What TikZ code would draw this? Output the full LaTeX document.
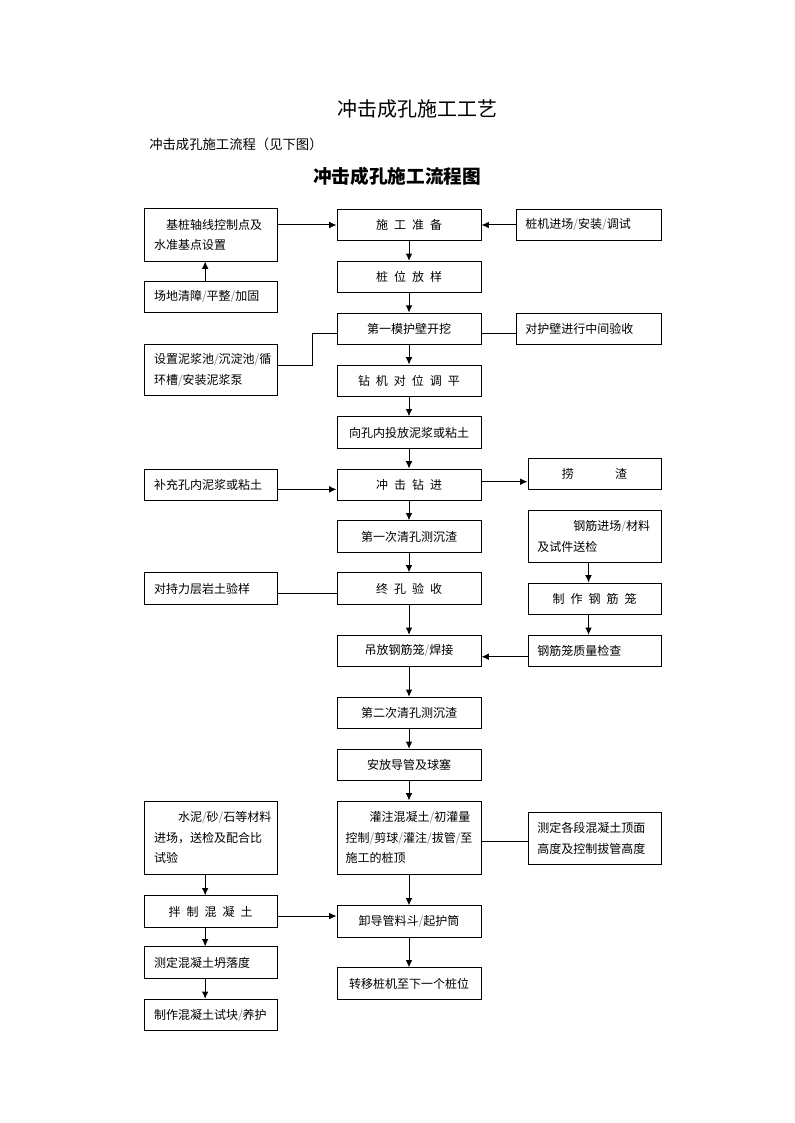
\documentclass[tikz,border=0pt]{standalone}
\usepackage{fontspec}
\setmainfont{Noto Sans CJK SC}
\usetikzlibrary{arrows.meta}
\newcommand{\gsl}{\textcolor{black!45}{/}}
\newcommand{\indbox}[1]{\hbox to #1{}}
\tikzset{
  box/.style={draw,line width=0.75pt,inner ysep=0pt,minimum height=23.5pt,
    font=\fontsize{9}{15.6}\selectfont,execute at begin node={\spaceskip=4.5pt\relax}},
  lbox/.style={box,text width=84.75pt,inner xsep=7.5pt,align=left},
  cbox/.style={box,text width=96pt,inner xsep=6pt,align=center},
  cboxl/.style={box,text width=95pt,inner xsep=6.5pt,align=left},
  rbox/.style={box,text width=94.75pt,inner xsep=7pt,align=left},
  rboxn/.style={box,text width=85.75pt,inner xsep=7pt,align=left},
  arr/.style={line width=0.75pt,-{Latex[length=5.5pt,width=5pt]}},
  link/.style={line width=0.75pt}
}
\begin{document}
\begin{tikzpicture}[x=0.75pt,y=-0.75pt]
\useasboundingbox (0,0) rectangle (794,1123);

\node[font=\fontsize{15}{18}\selectfont] (title) at (417.5,108.5) {冲击成孔施工工艺};
\node[font=\fontsize{10}{12}\selectfont,anchor=west,inner sep=0pt] (subtitle) at (149,144.5) {冲击成孔施工流程（见下图）};
\node[font=\fontsize{14}{17}\selectfont\bfseries] (chart) at (397,176) {冲击成孔施工流程图};

\node[cbox] (prep) at (409,225) {施 工 准 备};
\node[cbox] (pos) at (409,277) {桩 位 放 样};
\node[cbox] (wall) at (409,328.8) {第一模护壁开挖};
\node[cbox] (rig) at (409,380.7) {钻 机 对 位 调 平};
\node[cbox] (slurry) at (409,432.5) {向孔内投放泥浆或粘土};
\node[cbox] (drill) at (409,484.7) {冲 击 钻 进};
\node[cbox] (clean1) at (409,536.5) {第一次清孔测沉渣};
\node[cbox] (final) at (409,588.5) {终 孔 验 收};
\node[cbox] (hang) at (409,651) {吊放钢筋笼\gsl 焊接};
\node[cbox] (clean2) at (409,713) {第二次清孔测沉渣};
\node[cbox] (pipe) at (409,765) {安放导管及球塞};
\node[cboxl,minimum height=54.75pt] (pour) at (409,837.5) {\indbox{2em}灌注混凝土\gsl 初灌量\par 控制\gsl 剪球\gsl 灌注\gsl 拔管\gsl 至\par 施工的桩顶};
\node[cbox] (remove) at (409,921.5) {卸导管料斗\gsl 起护筒};
\node[cbox] (move) at (409,983.5) {转移桩机至下一个桩位};

\node[lbox,minimum height=39pt] (axis) at (210.5,235) {\indbox{1em}基桩轴线控制点及\par 水准基点设置};
\node[lbox] (site) at (210.5,297) {场地清障\gsl 平整\gsl 加固};
\node[lbox,minimum height=38.5pt] (pitset) at (210.5,370) {设置泥浆池\gsl 沉淀池\gsl 循\par 环槽\gsl 安装泥浆泵};
\node[lbox] (addslurry) at (210.5,484.7) {补充孔内泥浆或粘土};
\node[lbox] (rock) at (210.5,588.5) {对持力层岩土验样};
\node[lbox,minimum height=54.75pt] (mat) at (210.5,837.5) {\indbox{2em}水泥\gsl 砂\gsl 石等材料\par 进场，送检及配合比\par 试验};
\node[box,minimum width=99.75pt] (mix) at (210.5,911.5) {拌 制 混 凝 土};
\node[lbox] (slump) at (210.5,962.5) {测定混凝土坍落度};
\node[lbox] (cube) at (210.5,1015) {制作混凝土试块\gsl 养护};

\node[rbox] (rigin) at (588.5,225) {桩机进场\gsl 安装\gsl 调试};
\node[rbox] (wallchk) at (588.5,328.8) {对护壁进行中间验收};
\node[box,minimum width=99.75pt] (dreg) at (594.5,473.8) {捞\hspace{31pt}渣};
\node[rboxn,minimum height=39pt] (steel) at (594.5,536.5) {\indbox{3em}钢筋进场\gsl 材料\par 及试件送检};
\node[box,minimum width=99.75pt] (cage) at (594.5,598.7) {制 作 钢 筋 笼};
\node[rboxn] (cagechk) at (594.5,651) {钢筋笼质量检查};
\node[rboxn,minimum height=39pt] (top) at (594.5,838) {测定各段混凝土顶面\par 高度及控制拔管高度};

\draw[arr] (prep) -- (pos);
\draw[arr] (pos) -- (wall);
\draw[arr] (wall) -- (rig);
\draw[arr] (rig) -- (slurry);
\draw[arr] (slurry) -- (drill);
\draw[arr] (drill) -- (clean1);
\draw[arr] (clean1) -- (final);
\draw[arr] (final) -- (hang);
\draw[arr] (hang) -- (clean2);
\draw[arr] (clean2) -- (pipe);
\draw[arr] (pipe) -- (pour);
\draw[arr] (pour) -- (remove);
\draw[arr] (remove) -- (move);

\draw[arr] (axis.east |- prep) -- (prep);
\draw[arr] (rigin) -- (prep);
\draw[arr] ([xshift=-4pt]site.north) -- ([xshift=-4pt]axis.south);
\draw[link] ([yshift=3.2pt]pitset.east) -- ++(35,0) |- ([yshift=-3.4pt]wall.west);
\draw[link] ([yshift=-3.4pt]wall.east) -- ([yshift=-3.4pt]wallchk.west);
\draw[arr] ([yshift=-3.5pt]addslurry.east) -- ([yshift=-3.5pt]drill.west);
\draw[arr] ([yshift=2.25pt]drill.east) -- ([yshift=2.25pt]drill.east -| dreg.west);
\draw[link] ([yshift=-3.4pt]rock.east) -- ([yshift=-3.4pt]final.west);
\draw[arr] ([xshift=-4.5pt]steel.south) -- ([xshift=-4.5pt]cage.north);
\draw[arr] ([xshift=-4.5pt]cage.south) -- ([xshift=-4.5pt]cagechk.north);
\draw[arr] ([yshift=-4.3pt]cagechk.west) -- ([yshift=-4.3pt]hang.east);
\draw[link] ([yshift=-3pt]pour.east) -- ([yshift=-3pt]pour.east -| top.west);
\draw[arr] ([xshift=-4pt]mat.south) -- ([xshift=-4pt]mix.north);
\draw[arr] ([yshift=-3.4pt]mix.east) -- ([yshift=-3.4pt]mix.east -| remove.west);
\draw[arr] ([xshift=-4pt]mix.south) -- ([xshift=-4pt]slump.north);
\draw[arr] ([xshift=-4pt]slump.south) -- ([xshift=-4pt]cube.north);
\end{tikzpicture}
\end{document}
